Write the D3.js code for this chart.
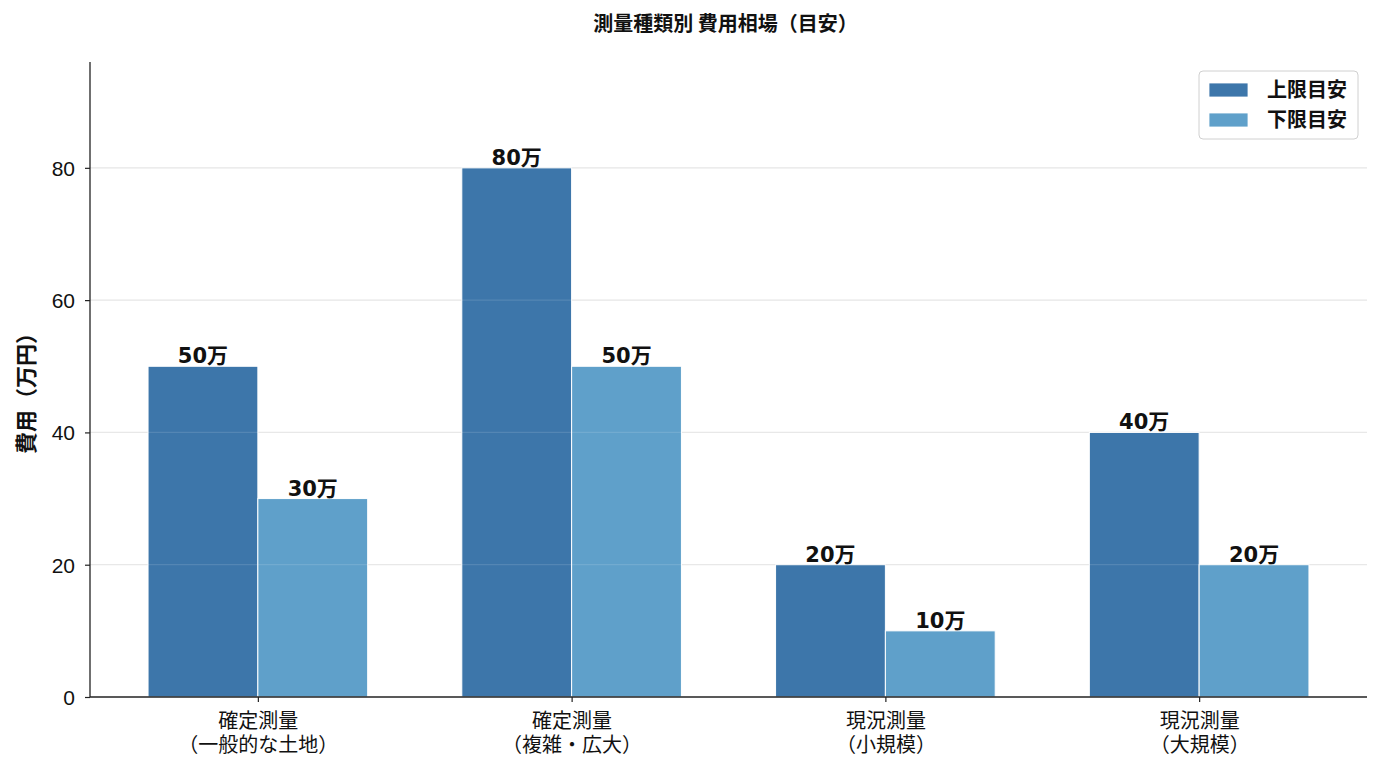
<!doctype html>
<html>
<head>
<meta charset="utf-8" />
<script src="https://cdn.jsdelivr.net/npm/d3@7"></script>
<style>
 body { margin:0; background:#fff; font-family:"Noto Sans CJK JP","Noto Sans",sans-serif; }
</style>
</head>
<body>
<script type="text/javascript">

 var categories = ["確定測量\n（一般的な土地）", "確定測量\n（複雑・広大）", "現況測量\n（小規模）", "現況測量\n（大規模）"];
 var upperValues = [50, 80, 20, 40];
 var lowerValues = [30, 50, 10, 20];
 var seriesNames = ["上限目安", "下限目安"];
 var seriesColors = ["#3d76aa", "#5fa0ca"];
 var yTicks = [0, 20, 40, 60, 80];

 var w = 1383, h = 770;
 var mLeft = 90, mRight = 1367, mTop = 62, mBottom = 697;
 var barW = 0.35;
 var cjk = "'Noto Sans CJK JP', sans-serif";

 var svg = d3.select("body").append("svg")
     .attr("width", w).attr("height", h)
     .style("font-family", cjk);

 var xScale = d3.scaleLinear()
     .domain([-0.535, 3.535])
     .range([mLeft, mRight]);

 var yScale = d3.scaleLinear()
     .domain([0, 96])
     .range([mBottom, mTop]);

 // grid
 svg.append("g").selectAll("line")
    .data(yTicks.filter(function(d){ return d > 0; }))
    .enter().append("line")
    .attr("x1", mLeft).attr("x2", mRight)
    .attr("y1", function(d){ return yScale(d); })
    .attr("y2", function(d){ return yScale(d); })
    .attr("stroke", "#e5e5e5").attr("stroke-width", 1.2);

 var series = [upperValues, lowerValues];
 series.forEach(function(vals, s){
     var g = svg.append("g");
     g.selectAll("rect")
      .data(vals).enter().append("rect")
      .attr("x", function(d, i){ return xScale(i + (s - 1) * barW); })
      .attr("width", xScale(barW) - xScale(0))
      .attr("y", function(d){ return yScale(d); })
      .attr("height", function(d){ return yScale(0) - yScale(d); })
      .attr("fill", seriesColors[s])
      .attr("stroke", "#fff").attr("stroke-width", 1);
     g.selectAll("text")
      .data(vals).enter().append("text")
      .attr("x", function(d, i){ return xScale(i + (s - 0.5) * barW); })
      .attr("y", function(d){ return yScale(d) - 3; })
      .attr("text-anchor", "middle")
      .attr("font-size", "21px").attr("font-weight", "bold")
      .style("font-family", "'DejaVu Sans', 'Noto Sans CJK JP', sans-serif")
      .attr("fill", "#111")
      .text(function(d){ return d + "万"; });
 });

 // grid line faintly over bars
 svg.append("g").selectAll("line")
    .data(yTicks.filter(function(d){ return d > 0; }))
    .enter().append("line")
    .attr("x1", mLeft).attr("x2", mRight)
    .attr("y1", function(d){ return yScale(d); })
    .attr("y2", function(d){ return yScale(d); })
    .attr("stroke", "#ffffff").attr("stroke-opacity", 0.12).attr("stroke-width", 1.2);

 // y axis
 var yAxis = svg.append("g")
     .attr("transform", "translate(" + mLeft + ",0)")
     .call(d3.axisLeft(yScale).tickValues(yTicks).tickSize(5).tickPadding(10));
 yAxis.select(".domain").attr("d", "M0," + mTop + "V" + mBottom).attr("stroke", "#222").attr("stroke-width", 1.3);
 yAxis.selectAll(".tick line").attr("stroke", "#222").attr("stroke-width", 1.2);
 yAxis.selectAll("text").attr("font-size", "21px").attr("fill", "#111").attr("dy", "0.36em")
      .style("font-family", "'Liberation Sans', sans-serif");

 // x axis
 var xAxis = svg.append("g")
     .attr("transform", "translate(0," + mBottom + ")")
     .call(d3.axisBottom(xScale).tickValues([0, 1, 2, 3]).tickSize(5).tickFormat(""));
 xAxis.select(".domain").attr("d", "M" + mLeft + ",0H" + mRight).attr("stroke", "#222").attr("stroke-width", 1.3);
 xAxis.selectAll(".tick line").attr("stroke", "#222").attr("stroke-width", 1.2);
 xAxis.selectAll(".tick").each(function(d){
     var tick = d3.select(this);
     categories[d].split("\n").forEach(function(l, k){
         tick.append("text")
             .attr("fill", "#111").attr("font-size", "20px").attr("text-anchor", "middle")
             .style("font-family", cjk)
             .attr("x", 0).attr("y", 31 + k * 24)
             .text(l);
     });
 });

 // title
 svg.append("text")
    .attr("x", (mLeft + mRight) / 2 - 3).attr("y", 31)
    .attr("text-anchor", "middle")
    .attr("font-size", "20px").attr("font-weight", "bold").attr("fill", "#111")
    .text("測量種類別 費用相場（目安）");

 // y label
 svg.append("text")
    .attr("transform", "translate(34,388) rotate(-90)")
    .attr("text-anchor", "middle")
    .attr("font-size", "22px").attr("font-weight", "bold").attr("fill", "#111")
    .text("費用（万円）");

 // legend
 var lg = svg.append("g").attr("transform", "translate(1199,71)");
 lg.append("rect").attr("width", 159).attr("height", 68).attr("rx", 4)
   .attr("fill", "#fff").attr("stroke", "#d0d0d0").attr("stroke-width", 1);
 seriesNames.forEach(function(n, i){
     lg.append("rect").attr("x", 10).attr("y", 12 + i * 30).attr("width", 39).attr("height", 14)
       .attr("fill", seriesColors[i]).attr("stroke", "#fff").attr("stroke-width", 0.8);
     lg.append("text").attr("x", 68).attr("y", 26 + i * 30)
       .attr("font-size", "20px").attr("font-weight", "bold").attr("fill", "#111")
       .text(n);
 });

</script>
</body>
</html>
